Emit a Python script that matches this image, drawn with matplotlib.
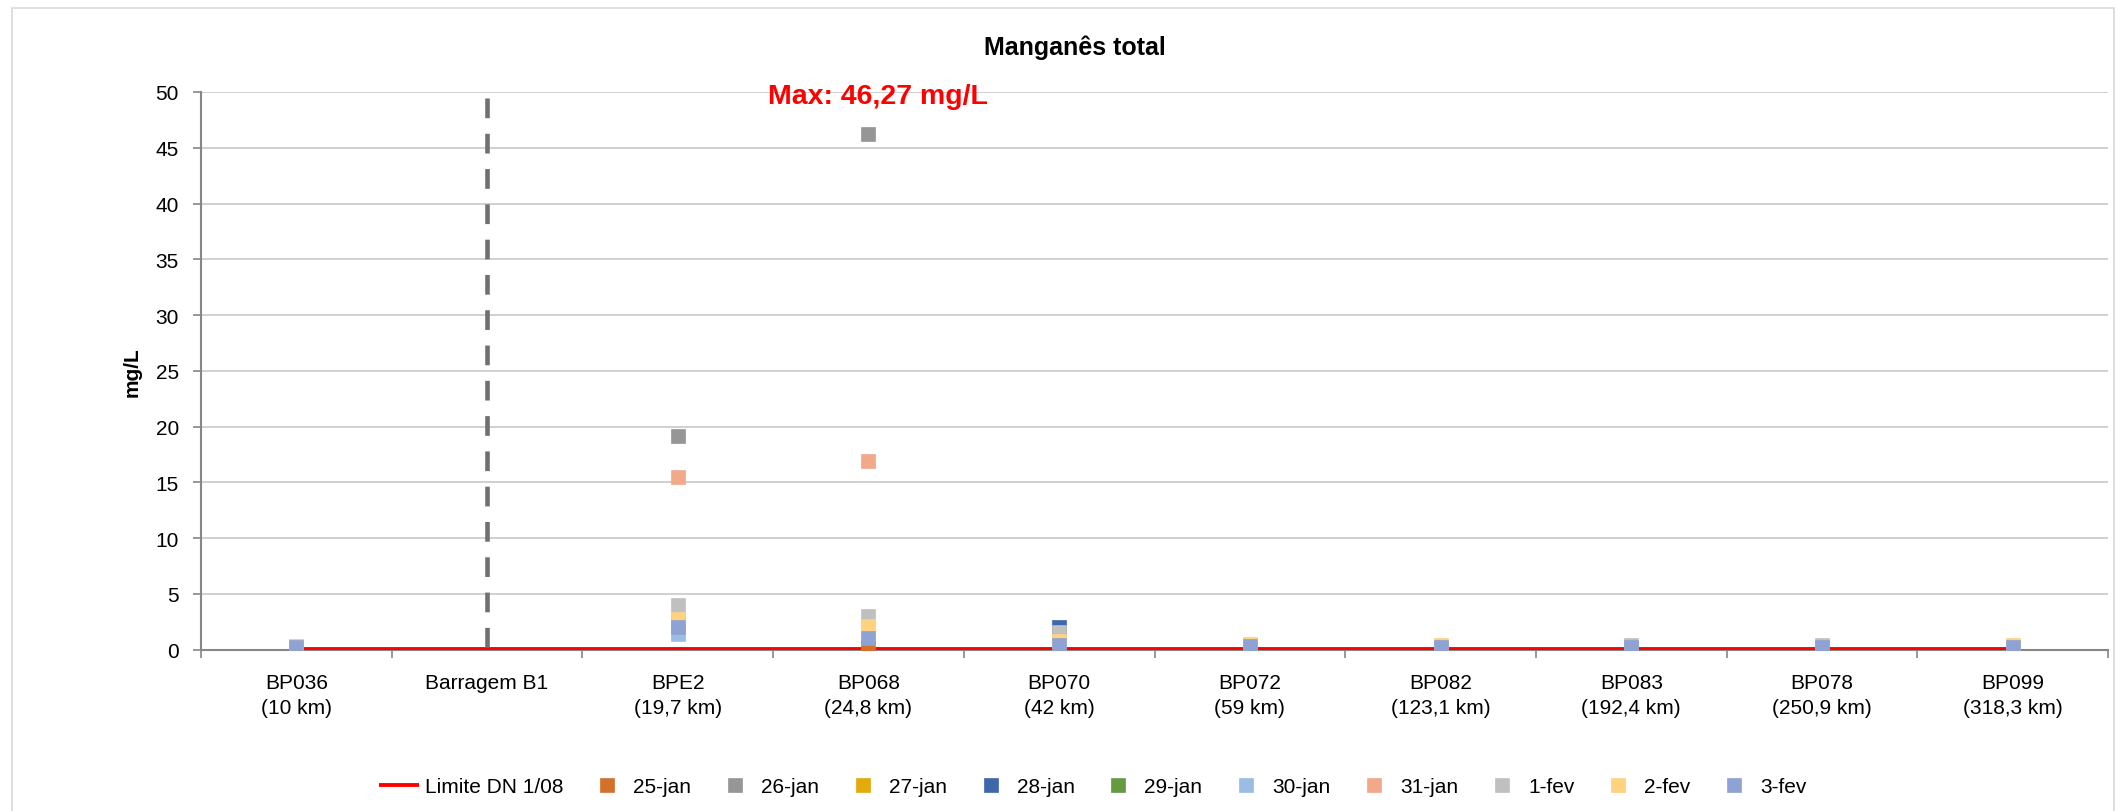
import numpy as np
import matplotlib
matplotlib.use('Agg')
import matplotlib.pyplot as plt
from matplotlib.patches import Rectangle

plt.rcParams['font.family'] = ['Liberation Sans', 'DejaVu Sans']

nan = np.nan

# estações (eixo x)
categories = ['BP036\n(10 km)', 'Barragem B1', 'BPE2\n(19,7 km)', 'BP068\n(24,8 km)',
              'BP070\n(42 km)', 'BP072\n(59 km)', 'BP082\n(123,1 km)', 'BP083\n(192,4 km)',
              'BP078\n(250,9 km)', 'BP099\n(318,3 km)']

dates = ['25-jan', '26-jan', '27-jan', '28-jan', '29-jan', '30-jan', '31-jan', '1-fev', '2-fev', '3-fev']
colors = ['#D4702E', '#969696', '#E4AA0A', '#3F67AC', '#659A41',
          '#9BBCE3', '#F1A98A', '#C0C0C0', '#FED27F', '#8FA2D4']

# valores de manganês total (mg/L)
v_25jan = [nan, nan, nan, 0.2, nan, nan, nan, nan, nan, nan]
v_26jan = [nan, nan, 19.2, 46.27, nan, nan, nan, nan, nan, nan]
v_27jan = [nan, nan, 2.6, nan, nan, nan, nan, nan, nan, nan]
v_28jan = [nan, nan, nan, nan, 2.0, nan, nan, nan, nan, nan]
v_29jan = [nan, nan, nan, nan, nan, nan, nan, nan, nan, nan]
v_30jan = [nan, nan, 1.4, nan, nan, nan, nan, nan, nan, nan]
v_31jan = [nan, nan, 15.5, 16.9, nan, nan, nan, nan, nan, nan]
v_1fev = [0.35, nan, 4.0, 3.0, 1.6, nan, nan, 0.42, 0.42, nan]
v_2fev = [0.3, nan, 2.8, 2.1, 0.8, 0.5, 0.42, nan, nan, 0.42]
v_3fev = [0.25, nan, 2.0, 1.05, 0.45, 0.33, 0.25, 0.25, 0.25, 0.25]
series = [v_25jan, v_26jan, v_27jan, v_28jan, v_29jan, v_30jan, v_31jan, v_1fev, v_2fev, v_3fev]

limite = [0.1] * len(categories)  # Limite DN 1/08
max_value = 46.27

fig = plt.figure(figsize=(21.18, 8.12), dpi=100)
ax = fig.add_axes([0.0949, 0.1986, 0.9004, 0.6869])

x = np.arange(len(categories)) + 0.5

ax.plot(x, limite, color='#FF0000', lw=2.8, label='Limite DN 1/08', zorder=3, solid_capstyle='butt')
for vals, d, c in zip(series, dates, colors):
    ax.plot(x, vals, ls='none', marker='s', ms=10.5, color=c, mec=c, mew=0.5, label=d, zorder=5)

# barragem
ax.plot([x[1], x[1]], [49.5, 0], color='#707070', lw=3.3, dashes=(4.3, 3.4), zorder=4)

# rótulo do valor máximo, sobre o BP068
ax.text(x[3] + 0.05, 49.6, 'Max: ' + f'{max_value:.2f}'.replace('.', ',') + ' mg/L',
        color='#FF0000', fontsize=20.5, fontweight='bold', ha='center', va='center', zorder=6)

ax.set_xlim(0, len(categories))
ax.set_ylim(0, 50)
ax.set_yticks(np.arange(0, 51, 5))
ax.set_xticks(np.arange(0, len(categories) + 1))
ax.set_xticklabels([])
ax.set_xticks(x, minor=True)
ax.set_xticklabels(categories, minor=True, fontsize=15, linespacing=1.35)
ax.tick_params(axis='x', which='minor', length=0, pad=17)
ax.tick_params(axis='x', which='major', length=6, width=1.2, color='#868686', direction='out')
ax.tick_params(axis='y', length=6, width=1.2, color='#868686', labelsize=15, pad=10)

ax.grid(axis='y', color='#C8C8C8', lw=1.2)
ax.set_axisbelow(True)
for s in ['top', 'right']:
    ax.spines[s].set_visible(False)
for s in ['left', 'bottom']:
    ax.spines[s].set_color('#868686')
    ax.spines[s].set_linewidth(1.5)

ax.set_ylabel('mg/L', fontsize=15, fontweight='bold')
ax.yaxis.set_label_coords(-0.031, 0.5)

fig.text(0.5076, 1 - 48 / 812, 'Manganês total', fontsize=18, fontweight='bold', ha='center', va='center')

fig.legend(loc='center', bbox_to_anchor=(0.516, 0.0296), ncol=11, frameon=False, fontsize=15,
           handlelength=1.9, handletextpad=0.3, columnspacing=1.15)

fig.add_artist(Rectangle((12 / 2118, -0.01), (2114 - 12) / 2118, 1 - 9 / 812 + 0.01,
                         transform=fig.transFigure, fill=False, ec='#D9D9D9', lw=1.2))

fig.savefig('out.png', dpi=100)
